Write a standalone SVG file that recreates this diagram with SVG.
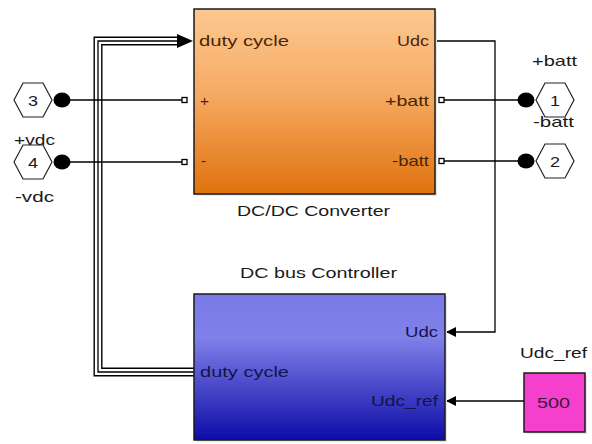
<svg xmlns="http://www.w3.org/2000/svg" width="592" height="444" viewBox="0 0 592 444">
<defs>
<linearGradient id="gOrange" x1="0" y1="0" x2="0" y2="1">
<stop offset="0" stop-color="#fcc890"/>
<stop offset="0.45" stop-color="#f6ab64"/>
<stop offset="1" stop-color="#e0720e"/>
</linearGradient>
<linearGradient id="gBlue" x1="0" y1="0" x2="0" y2="1">
<stop offset="0" stop-color="#7a7ae6"/>
<stop offset="0.3" stop-color="#8080ea"/>
<stop offset="1" stop-color="#0c0ca6"/>
</linearGradient>
<marker id="arr" viewBox="0 0 10 10" refX="10" refY="5" markerWidth="10" markerHeight="10" markerUnits="userSpaceOnUse" orient="auto">
<path d="M0,0 L10,5 L0,10 Z" fill="#000"/>
</marker>
</defs>
<style>
text{font-family:"Liberation Sans",Arial,sans-serif;font-size:15px;fill:#1a1a1a}
.ot{fill:#4a2608}
.bt{fill:#14144a}
.blk{stroke:#1a1a1a;stroke-width:1.5}
.wire{fill:none;stroke:#000;stroke-width:1.3}
.hex{fill:#fff;stroke:#222;stroke-width:1.2}
.dot{fill:#000}
.port{fill:#fff;stroke:#000;stroke-width:1.3}
.shadow{fill:#e6e6e6}
</style>
<rect width="592" height="444" fill="#fff"/>

<g id="connectors">
<path d="M194,372 H98 V41 H180" fill="none" stroke="#000" stroke-width="9"/>
<path d="M194,372 H98 V41 H180" fill="none" stroke="#fff" stroke-width="6.2"/>
<path d="M194,372 H98 V41 H180" fill="none" stroke="#000" stroke-width="1.3"/>
<path d="M177,34 L193,41 L177,48 Z" fill="#000"/>
<path class="wire" d="M435,41 H495 V332 H446" marker-end="url(#arr)"/>
<path class="wire" d="M524,401 H446" marker-end="url(#arr)"/>
<line class="wire" x1="62" y1="100" x2="183" y2="100"/>
<line class="wire" x1="62" y1="162" x2="183" y2="162"/>
<line class="wire" x1="444" y1="100" x2="526" y2="100"/>
<line class="wire" x1="444" y1="161" x2="526" y2="161"/>
</g>

<g id="dcdc">
<rect class="shadow" x="196" y="11" width="241" height="185"/>
<rect class="blk" x="194" y="9" width="241" height="185" fill="url(#gOrange)"/>
<text class="ot" x="199" y="46" textLength="90" lengthAdjust="spacingAndGlyphs">duty cycle</text>
<text class="ot" x="397" y="46" textLength="32" lengthAdjust="spacingAndGlyphs">Udc</text>
<text class="ot" x="200" y="106" textLength="9" lengthAdjust="spacingAndGlyphs">+</text>
<text class="ot" x="385" y="106" textLength="44" lengthAdjust="spacingAndGlyphs">+batt</text>
<text class="ot" x="201" y="166" textLength="5" lengthAdjust="spacingAndGlyphs">-</text>
<text class="ot" x="392" y="166" textLength="37" lengthAdjust="spacingAndGlyphs">-batt</text>
<rect class="port" x="182" y="97.5" width="5" height="5"/>
<rect class="port" x="182" y="159.5" width="5" height="5"/>
<rect class="port" x="439" y="97.5" width="5" height="5"/>
<rect class="port" x="439" y="158.5" width="5" height="5"/>
<text x="237" y="216" textLength="153" lengthAdjust="spacingAndGlyphs">DC/DC Converter</text>
</g>

<g id="controller">
<rect class="shadow" x="196" y="296" width="251" height="146"/>
<rect class="blk" x="194" y="294" width="251" height="146" fill="url(#gBlue)"/>
<text x="240" y="278" textLength="157" lengthAdjust="spacingAndGlyphs">DC bus Controller</text>
<text class="bt" x="405" y="337" textLength="33" lengthAdjust="spacingAndGlyphs">Udc</text>
<text class="bt" x="200" y="377" textLength="89" lengthAdjust="spacingAndGlyphs">duty cycle</text>
<text class="bt" x="371" y="406" textLength="67" lengthAdjust="spacingAndGlyphs">Udc_ref</text>
</g>

<g id="udc_ref">
<rect class="shadow" x="526" y="375" width="61" height="59"/>
<rect class="blk" x="524" y="373" width="61" height="59" fill="#f440cc"/>
<text x="520" y="358" textLength="67" lengthAdjust="spacingAndGlyphs">Udc_ref</text>
<text x="537" y="408" textLength="33" lengthAdjust="spacingAndGlyphs" style="fill:#3a1838">500</text>
</g>

<g id="port3">
<polygon class="hex" points="14,100 23,83 43,83 52,100 43,117 23,117"/>
<text x="28" y="106" textLength="10" lengthAdjust="spacingAndGlyphs">3</text>
<ellipse class="dot" cx="62" cy="100" rx="8.5" ry="7.5"/>
<text x="14" y="145" textLength="41" lengthAdjust="spacingAndGlyphs">+vdc</text>
</g>

<g id="port4">
<polygon class="hex" points="14,162 23,145 43,145 52,162 43,179 23,179"/>
<text x="28" y="168" textLength="10" lengthAdjust="spacingAndGlyphs">4</text>
<ellipse class="dot" cx="62" cy="162" rx="8.5" ry="7.5"/>
<text x="15" y="202" textLength="39" lengthAdjust="spacingAndGlyphs">-vdc</text>
</g>

<g id="port1">
<polygon class="hex" points="536,100 545,83 565,83 574,100 565,117 545,117"/>
<text x="550" y="106" textLength="10" lengthAdjust="spacingAndGlyphs">1</text>
<ellipse class="dot" cx="526" cy="100" rx="8.5" ry="7.5"/>
<text x="532" y="66" textLength="45" lengthAdjust="spacingAndGlyphs">+batt</text>
</g>

<g id="port2">
<polygon class="hex" points="536,161 545,144 565,144 574,161 565,178 545,178"/>
<text x="550" y="167" textLength="10" lengthAdjust="spacingAndGlyphs">2</text>
<ellipse class="dot" cx="526" cy="161" rx="8.5" ry="7.5"/>
<text x="533" y="127" textLength="41" lengthAdjust="spacingAndGlyphs">-batt</text>
</g>
</svg>
